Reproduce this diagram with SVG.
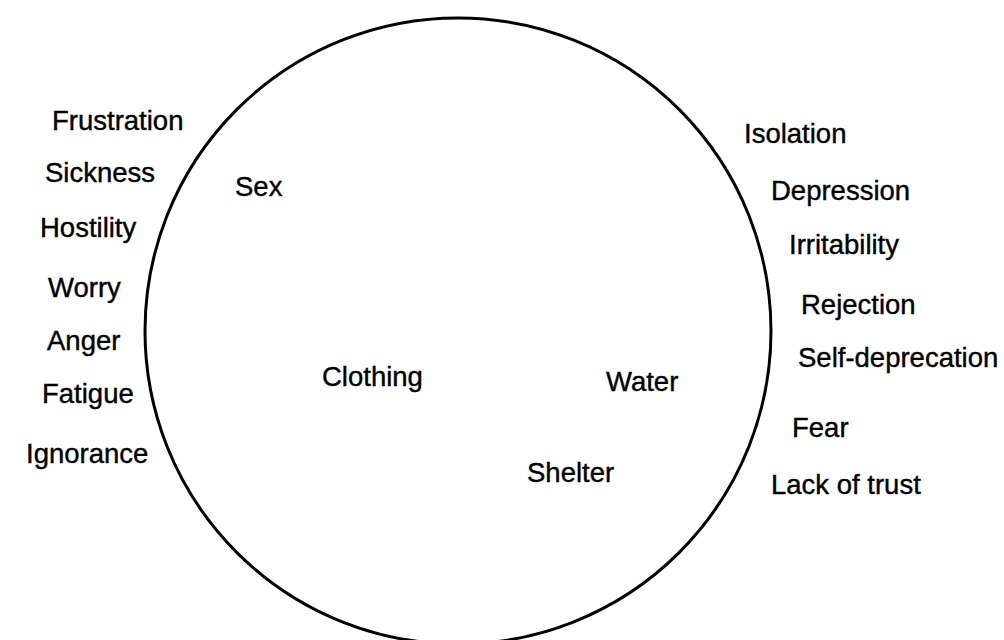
<svg xmlns="http://www.w3.org/2000/svg" width="1004" height="640" viewBox="0 0 1004 640">
<style>
text{font-family:"Liberation Sans",Arial,sans-serif;font-size:27.5px;fill:#000;stroke:#000;stroke-width:0.4}
.ring{fill:none;stroke:#000;stroke-width:3}
</style>
<rect width="1004" height="640" fill="#fff"/>
<g id="circle"><circle class="ring" cx="458" cy="331" r="313"/></g>
<g id="inside">
<g id="sex"><text x="235" y="196">Sex</text></g>
<g id="clothing"><text x="322" y="386">Clothing</text></g>
<g id="water"><text x="606" y="391">Water</text></g>
<g id="shelter"><text x="527" y="482">Shelter</text></g>
</g>
<g id="left">
<g id="frustration"><text x="52" y="130">Frustration</text></g>
<g id="sickness"><text x="45" y="182">Sickness</text></g>
<g id="hostility"><text x="40" y="237">Hostility</text></g>
<g id="worry"><text x="48" y="297">Worry</text></g>
<g id="anger"><text x="47" y="350">Anger</text></g>
<g id="fatigue"><text x="42" y="403">Fatigue</text></g>
<g id="ignorance"><text x="26" y="463">Ignorance</text></g>
</g>
<g id="right">
<g id="isolation"><text x="744" y="143">Isolation</text></g>
<g id="depression"><text x="771" y="200">Depression</text></g>
<g id="irritability"><text x="789" y="254">Irritability</text></g>
<g id="rejection"><text x="801" y="314">Rejection</text></g>
<g id="selfdep"><text x="798" y="367">Self-deprecation</text></g>
<g id="fear"><text x="792" y="437">Fear</text></g>
<g id="lackoftrust"><text x="771" y="494">Lack of trust</text></g>
</g>
</svg>
